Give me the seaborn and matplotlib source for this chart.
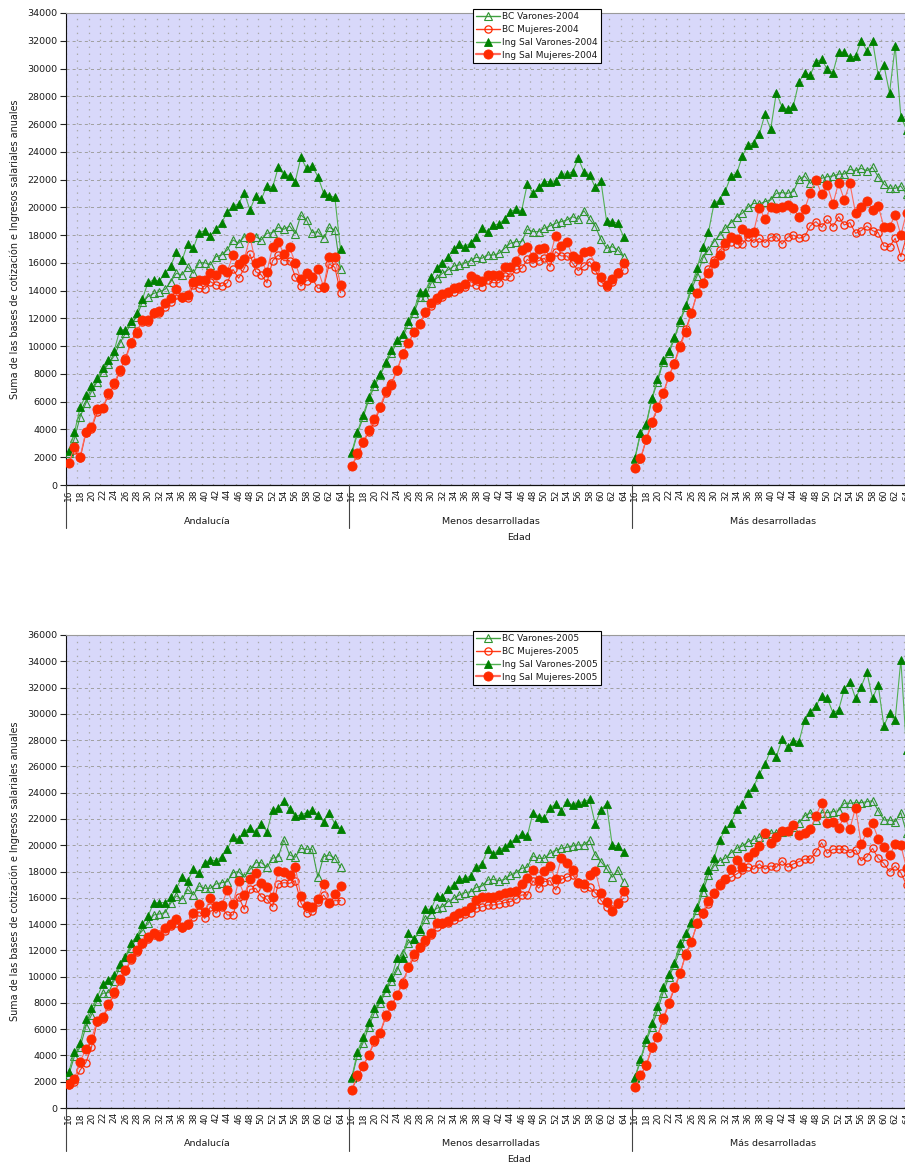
import matplotlib
matplotlib.use("Agg")
import matplotlib.pyplot as plt
from matplotlib.lines import Line2D
import pandas as pd
import seaborn as sns

AGES = list(range(16, 65))
GROUPS = ["Andalucía", "Menos desarrolladas", "Más desarrolladas"]
SERIES = ["BC Varones", "BC Mujeres", "Ing Sal Varones", "Ing Sal Mujeres"]
YEARS = ["2004", "2005"]
XTICK_AGES = list(range(16, 65, 2))

# ---------------- 2004 ----------------
andalucia_bcv_2004 = [2280, 3360, 4920, 5880, 6720, 7440, 8160, 8720, 9290, 10200, 10920, 11650, 12120, 13200, 13570, 13800, 13930, 14090, 14650, 15250, 15130, 15730, 15250, 16010, 16010, 15850, 16450, 16570, 16930, 17650, 17410, 17890, 17770, 17890, 17650, 18130, 18180, 18560, 18420, 18660, 18100, 19450, 19090, 18180, 18250, 17770, 18560, 18370, 15530]
andalucia_bcm_2004 = [1600, 2520, 1920, 3720, 4010, 5280, 5520, 6480, 7200, 8160, 9120, 10320, 11120, 11760, 11760, 12480, 12410, 12840, 13200, 13690, 13450, 13450, 14410, 14170, 14120, 14650, 14410, 14330, 14570, 15530, 14890, 15610, 16640, 15370, 15130, 14570, 16160, 16570, 16160, 16160, 15010, 14330, 14720, 14890, 14170, 14170, 15920, 15680, 13850]
andalucia_isv_2004 = [2450, 3800, 5600, 6450, 7150, 7700, 8450, 9000, 9650, 11160, 11200, 11780, 12420, 13400, 14600, 14770, 14700, 15250, 15770, 16800, 16200, 17380, 17050, 18180, 18320, 17940, 18440, 18900, 19640, 20100, 20240, 21060, 19810, 20820, 20580, 21560, 21440, 22880, 22400, 22280, 21850, 23600, 22810, 22980, 22210, 21060, 20820, 20720, 16970]
andalucia_ism_2004 = [1610, 2710, 2040, 3840, 4150, 5450, 5570, 6600, 7320, 8280, 9000, 10200, 10970, 11880, 11880, 12360, 12560, 13090, 13450, 14120, 13520, 13690, 14650, 14770, 14770, 15250, 15130, 15530, 15370, 16570, 15920, 16250, 17890, 16010, 16160, 15370, 17170, 17530, 16640, 17120, 16010, 14810, 15250, 15010, 15530, 14290, 16400, 16400, 14410]

menos_bcv_2004 = [2280, 3720, 4870, 6170, 7130, 7900, 8760, 9480, 10320, 10680, 11600, 12410, 13520, 13570, 14530, 14890, 15250, 15490, 15770, 15850, 16010, 16160, 16400, 16330, 16570, 16570, 16690, 17050, 17410, 17530, 17530, 18420, 18250, 18250, 18490, 18660, 18850, 18970, 19090, 19330, 19140, 19760, 19140, 18660, 17700, 17050, 17170, 16930, 16450]
menos_bcm_2004 = [1370, 2160, 3050, 3840, 4560, 5520, 6600, 7370, 8240, 9480, 10200, 11040, 11640, 12360, 12890, 13330, 13570, 13850, 13930, 14090, 14290, 14650, 14410, 14290, 14770, 14570, 14570, 15050, 15010, 15530, 15610, 16250, 15970, 16160, 16330, 15730, 16810, 16500, 16500, 15970, 15440, 15770, 16090, 15490, 14650, 14290, 14650, 15370, 15490]
menos_isv_2004 = [2400, 3840, 5040, 6310, 7320, 7970, 8880, 9720, 10440, 10880, 11840, 12600, 13930, 13930, 14960, 15610, 16010, 16450, 16980, 17360, 17170, 17450, 17890, 18490, 18250, 18730, 18800, 19140, 19690, 19860, 19760, 21680, 21010, 21440, 21850, 21850, 21920, 22400, 22400, 22570, 23530, 22570, 22330, 21440, 21920, 19040, 18970, 18850, 17890]
menos_ism_2004 = [1370, 2280, 3120, 3960, 4730, 5640, 6790, 7200, 8280, 9440, 10250, 11040, 11600, 12480, 13090, 13450, 13760, 13930, 14170, 14290, 14480, 15050, 14810, 14720, 15130, 15130, 15130, 15730, 15680, 16160, 16930, 17170, 16450, 16980, 17050, 16450, 17940, 17210, 17530, 16500, 16250, 16810, 16880, 15770, 14960, 14410, 14810, 15290, 16010]

mas_bcv_2004 = [1850, 3720, 4320, 6170, 7440, 8880, 9480, 10560, 11760, 12850, 14090, 15050, 16330, 16930, 17530, 18010, 18490, 18900, 19330, 19570, 20000, 20290, 20240, 20410, 20530, 21010, 21060, 21010, 21130, 22020, 22260, 21730, 21970, 22090, 22210, 22260, 22400, 22400, 22740, 22640, 22810, 22640, 22880, 22210, 21680, 21370, 21370, 21540, 20960]
mas_bcm_2004 = [1200, 1850, 3240, 4440, 5520, 6550, 7800, 8810, 10080, 11210, 12410, 13810, 14570, 15530, 16210, 16930, 17210, 17530, 17360, 17360, 17890, 17460, 17770, 17460, 17840, 17890, 17360, 17840, 18010, 17770, 17890, 18660, 18970, 18560, 19140, 18610, 19330, 18730, 18900, 18130, 18320, 18660, 18320, 18180, 17210, 17170, 17770, 16450, 17900]
mas_isv_2004 = [1920, 3770, 4390, 6240, 7610, 9000, 9650, 10640, 11880, 12970, 14290, 15610, 17120, 18200, 20290, 20530, 21200, 22260, 22450, 23700, 24490, 24660, 25280, 26720, 25620, 28260, 27250, 27060, 27300, 29050, 29650, 29530, 30490, 30660, 29940, 29700, 31210, 31160, 30800, 30900, 32000, 31280, 32000, 29530, 30250, 28260, 31620, 26530, 25600]
mas_ism_2004 = [1200, 1920, 3290, 4560, 5590, 6600, 7850, 8720, 9960, 11040, 12360, 13810, 14570, 15290, 16010, 16570, 17460, 17890, 17700, 18420, 18130, 18250, 19980, 19140, 20000, 19930, 20050, 20170, 19930, 19280, 19860, 21060, 21970, 20960, 21610, 20240, 21780, 20530, 21730, 19570, 20000, 20480, 19810, 20100, 18610, 18610, 19450, 18010, 19620]

# ---------------- 2005 ----------------
andalucia_bcv_2005 = [2510, 3960, 4620, 6190, 7080, 8170, 8730, 8780, 9690, 10710, 11520, 12150, 12990, 13500, 14050, 14690, 14770, 14870, 15580, 16140, 15880, 16640, 16210, 16900, 16720, 16720, 17050, 17150, 17230, 17910, 17990, 17560, 18160, 18670, 18670, 18320, 19000, 19130, 20400, 19260, 19080, 19760, 19690, 19690, 17560, 19130, 19260, 19000, 18320]
andalucia_bcm_2005 = [1750, 2000, 2890, 3450, 4620, 6550, 6800, 7780, 8650, 9690, 10400, 11250, 11900, 12450, 12900, 13150, 13250, 13500, 13850, 14100, 13700, 13950, 14560, 14940, 14430, 15320, 14820, 15270, 14690, 14690, 16080, 15120, 16640, 16720, 16080, 15880, 15320, 17050, 17150, 17100, 17300, 15630, 14870, 15020, 15700, 16210, 15630, 15780, 15780]
andalucia_isv_2005 = [2770, 4290, 4970, 6750, 7590, 8420, 9440, 9740, 10120, 10960, 11520, 12580, 13040, 14000, 14610, 15630, 15630, 15630, 16030, 16720, 17560, 17300, 18160, 17910, 18670, 18870, 18820, 19130, 19690, 20600, 20450, 21030, 21290, 21030, 21620, 21030, 22680, 22810, 23390, 22730, 22220, 22300, 22480, 22680, 22300, 21790, 22480, 21620, 21210]
andalucia_ism_2005 = [1830, 2180, 3530, 4470, 5230, 6650, 6900, 7920, 8800, 9790, 10500, 11390, 12030, 12530, 13040, 13340, 13090, 13670, 14000, 14360, 13750, 14000, 14820, 15530, 14940, 15960, 15370, 15450, 16590, 15530, 17300, 16210, 17400, 17910, 17100, 16850, 16080, 18060, 17960, 17730, 18370, 16130, 15370, 15320, 15880, 17050, 15630, 16290, 16900]

menos_bcv_2005 = [2260, 4030, 4970, 6190, 7260, 8020, 8850, 9690, 10500, 11820, 12580, 12840, 13500, 14360, 14770, 15200, 15320, 15700, 15960, 16210, 16390, 16460, 16790, 16900, 17350, 17400, 17300, 17400, 17730, 17910, 18240, 18320, 19180, 19000, 19000, 19380, 19590, 19760, 19840, 19940, 20020, 20020, 20400, 19260, 18750, 18240, 17560, 18110, 17230]
menos_bcm_2005 = [1370, 2380, 3200, 4030, 5050, 5680, 6950, 7760, 8600, 9620, 10630, 11520, 12150, 12660, 13170, 13800, 14000, 14050, 14310, 14560, 14770, 14870, 15200, 15320, 15450, 15450, 15530, 15630, 15700, 15880, 16210, 16210, 17300, 16720, 17230, 17300, 16590, 17400, 17560, 17730, 17230, 16720, 16790, 16390, 15830, 15320, 15120, 15530, 15960]
menos_isv_2005 = [2330, 4290, 5380, 6570, 7590, 8270, 9110, 9950, 11390, 11390, 13340, 12840, 13600, 15120, 15120, 16130, 16080, 16640, 16970, 17400, 17480, 17660, 18320, 18570, 19690, 19330, 19640, 19840, 20190, 20520, 20850, 20700, 22480, 22170, 22050, 22810, 23140, 22630, 23310, 23060, 23240, 23310, 23490, 21620, 22680, 23140, 20020, 19940, 19510]
menos_ism_2005 = [1370, 2510, 3200, 4030, 5180, 5730, 7080, 7840, 8600, 9440, 10760, 11720, 12230, 12790, 13290, 14050, 14110, 14260, 14610, 14870, 15020, 15320, 15830, 16030, 16030, 16080, 16210, 16390, 16460, 16540, 17050, 17480, 18110, 17350, 18060, 18420, 17400, 19000, 18670, 18110, 17150, 17050, 17730, 18060, 16390, 15700, 15020, 15630, 16540]

mas_bcv_2005 = [2260, 3600, 5050, 6190, 7410, 8780, 9950, 10880, 12030, 13090, 14050, 15070, 16460, 17730, 18420, 18820, 19000, 19430, 19760, 19940, 20270, 20450, 20600, 20850, 20900, 20960, 21030, 21110, 21360, 21720, 22220, 22480, 21920, 22480, 22480, 22550, 22630, 23190, 23190, 23240, 23240, 23310, 23390, 22630, 21920, 21920, 21790, 22480, 20960]
mas_bcm_2005 = [1570, 2510, 3200, 4540, 5480, 6700, 7920, 9110, 10200, 11770, 12660, 14000, 14770, 15530, 16290, 17100, 17400, 17560, 17810, 18110, 18320, 18170, 18570, 18170, 18420, 18320, 18820, 18320, 18570, 18750, 18930, 18930, 19510, 20190, 19380, 19690, 19690, 19690, 19430, 19640, 18820, 19130, 19760, 19000, 18620, 17990, 18420, 17910, 16970]
mas_isv_2005 = [2330, 3700, 5230, 6440, 7760, 9180, 10200, 11060, 12580, 13290, 14180, 15270, 16790, 18110, 19000, 20400, 21210, 21670, 22730, 23140, 24000, 24460, 25420, 26180, 27250, 26740, 28060, 27450, 27960, 27880, 29530, 30160, 30600, 31360, 31180, 30090, 30290, 31860, 32450, 31180, 32070, 33160, 31180, 32190, 29070, 30040, 29530, 34100, 27250]
mas_ism_2005 = [1570, 2510, 3270, 4620, 5430, 6820, 8020, 9230, 10250, 11640, 12660, 14050, 14870, 15780, 16390, 16970, 17400, 18170, 18870, 18320, 19130, 19510, 19940, 20960, 20140, 20600, 21110, 21110, 21540, 20780, 20960, 21210, 22220, 23240, 21710, 21760, 21330, 22170, 21260, 22860, 20070, 21010, 21670, 20500, 19890, 19230, 20070, 19990, 18240]

DATA = {
    "2004": {
        "Andalucía": [andalucia_bcv_2004, andalucia_bcm_2004, andalucia_isv_2004, andalucia_ism_2004],
        "Menos desarrolladas": [menos_bcv_2004, menos_bcm_2004, menos_isv_2004, menos_ism_2004],
        "Más desarrolladas": [mas_bcv_2004, mas_bcm_2004, mas_isv_2004, mas_ism_2004],
    },
    "2005": {
        "Andalucía": [andalucia_bcv_2005, andalucia_bcm_2005, andalucia_isv_2005, andalucia_ism_2005],
        "Menos desarrolladas": [menos_bcv_2005, menos_bcm_2005, menos_isv_2005, menos_ism_2005],
        "Más desarrolladas": [mas_bcv_2005, mas_bcm_2005, mas_isv_2005, mas_ism_2005],
    },
}

STYLES = {
    "BC Varones": dict(color="#3f9f3f", marker="^", markerfacecolor="none",
                       markeredgecolor="#2f942f", markersize=5.2, markeredgewidth=0.8),
    "BC Mujeres": dict(color="#ff3a1a", marker="o", markerfacecolor="none",
                       markeredgecolor="#ff2a00", markersize=5.2, markeredgewidth=0.9),
    "Ing Sal Varones": dict(color="#52b052", marker="^", markerfacecolor="#008000",
                            markeredgecolor="#008000", markersize=5.8, markeredgewidth=0.6),
    "Ing Sal Mujeres": dict(color="#ff6a5c", marker="o", markerfacecolor="#ff2a00",
                            markeredgecolor="#ff2a00", markersize=6.6, markeredgewidth=0.6),
}


def build_df(year):
    rows = []
    for gi, g in enumerate(GROUPS):
        for si, s in enumerate(SERIES):
            vals = DATA[year][g][si]
            for a, v in zip(AGES, vals):
                rows.append(dict(group=g, serie=s, age=a, pos=gi * 50 + (a - 16), value=v))
    return pd.DataFrame(rows)


sns.set_style("white")
plt.rcParams["font.family"] = ["DejaVu Sans"]
plt.rcParams["lines.scale_dashes"] = False
TXT = "#1a1a1a"

W, H = 905, 1164
fig = plt.figure(figsize=(W / 100, H / 100), dpi=100)
fig.patch.set_facecolor("white")

panels = [
    dict(year="2004", top=13, bottom=485, ymax=34000),
    dict(year="2005", top=635, bottom=1108, ymax=36000),
]
left_px, right_px = 66, 915

for p in panels:
    ax = fig.add_axes([left_px / W, 1 - p["bottom"] / H,
                       (right_px - left_px) / W, (p["bottom"] - p["top"]) / H])
    ax.set_facecolor("#d8d8fa")
    hpx = p["bottom"] - p["top"]
    df = build_df(p["year"])

    # grid
    for k in range(0, 151, 2):
        ax.axvline(k - 0.5, color="#a8a8a8", lw=0.9, ls=(0, (1.0, 4.0)), zorder=0.5)
    for yv in range(2000, p["ymax"], 2000):
        ax.axhline(yv, color="#a0a0a0", lw=0.7, ls=(0, (2.2, 2.2)), zorder=0.6)

    for s in SERIES:
        sub = df[df["serie"] == s]
        sns.lineplot(data=sub, x="pos", y="value", units="group", estimator=None,
                     sort=False, ax=ax, lw=0.8, legend=False, zorder=3, **STYLES[s])

    ax.set_xlim(-0.5, 149.5)
    ax.set_ylim(0, p["ymax"])
    ax.set_xlabel("")
    ax.set_ylabel("")

    ax.set_yticks(range(0, p["ymax"] + 1, 2000))
    ax.set_yticklabels([str(v) for v in range(0, p["ymax"] + 1, 2000)], fontsize=6.8, color=TXT)
    ax.tick_params(axis="y", direction="out", length=4, width=0.8, color="#222222", pad=2, left=True)

    xt, xl = [], []
    for gi in range(3):
        for a in XTICK_AGES:
            xt.append(gi * 50 + (a - 16))
            xl.append(str(a))
    ax.set_xticks(xt)
    ax.set_xticklabels(xl, rotation=90, fontsize=6.5, color=TXT, va="top", ha="center")
    ax.tick_params(axis="x", length=0, pad=3)

    for side in ["right"]:
        ax.spines[side].set_visible(False)
    ax.spines["top"].set_color("#9a9a9a")
    ax.spines["top"].set_linewidth(0.8)
    ax.spines["left"].set_color("#111111")
    ax.spines["left"].set_linewidth(0.8)
    ax.spines["bottom"].set_color("#111111")
    ax.spines["bottom"].set_linewidth(0.9)

    sep_len = 43 / hpx
    for xb in [-0.5, 49.5, 99.5, 149.5]:
        ax.plot([xb, xb], [0, -sep_len], transform=ax.get_xaxis_transform(),
                color="#444444", lw=0.8, clip_on=False, zorder=5)

    for gi, g in enumerate(GROUPS):
        ax.text(gi * 50 + 24.5, -36 / hpx, g, transform=ax.get_xaxis_transform(),
                ha="center", va="center", fontsize=6.8, color=TXT)
    ax.text(0.5 * (left_px + right_px - 10 - left_px) / (right_px - left_px), -52 / hpx, "Edad",
            transform=ax.transAxes, ha="center", va="center", fontsize=6.8, color=TXT)

    fig.text(15 / W, 1 - (p["top"] + p["bottom"]) / 2 / H,
             "Suma de las bases de cotización e Ingresos salariales anuales",
             rotation=90, ha="center", va="center", fontsize=6.9, color=TXT)

    handles = []
    for s in SERIES:
        st = dict(STYLES[s])
        handles.append(Line2D([0], [0], lw=1.0 if s != "Ing Sal Mujeres" else 1.6, **st))
    labels = [f"{s}-{p['year']}" for s in SERIES]
    leg = ax.legend(handles, labels, loc="upper left",
                    bbox_to_anchor=((473 - left_px) / (right_px - left_px),
                                    (p["bottom"] - (p["top"] - 4)) / hpx),
                    borderaxespad=0, frameon=True, fancybox=False, framealpha=1,
                    edgecolor="black", fontsize=6.5, handlelength=2.6,
                    handletextpad=0.3, labelspacing=0.42, borderpad=0.35)
    leg.get_frame().set_linewidth(0.8)
    leg.set_zorder(10)
    for t in leg.get_texts():
        t.set_color(TXT)

fig.savefig("out.png", dpi=100)
